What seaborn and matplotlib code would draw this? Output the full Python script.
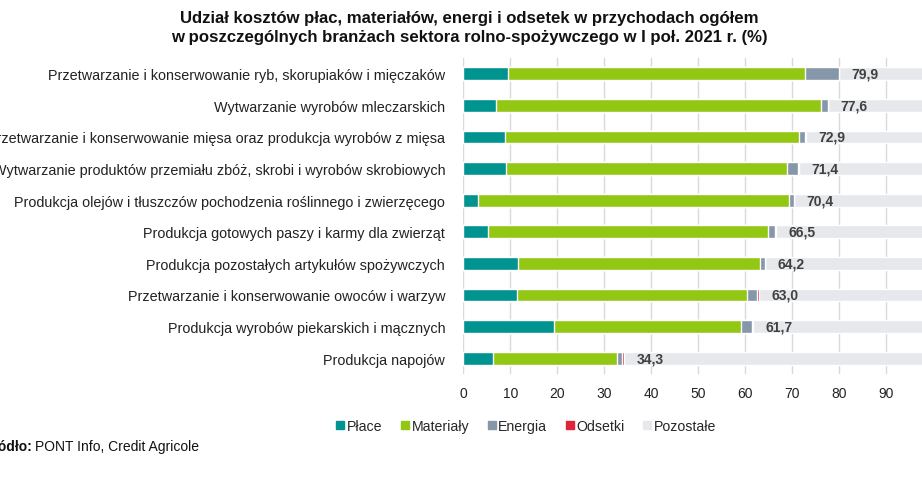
import matplotlib
matplotlib.use("Agg")
import matplotlib.pyplot as plt
import seaborn as sns
import pandas as pd
import numpy as np
from matplotlib.lines import Line2D

categories = [
    "Przetwarzanie i konserwowanie ryb, skorupiaków i mięczaków",
    "Wytwarzanie wyrobów mleczarskich",
    "Przetwarzanie i konserwowanie mięsa oraz produkcja wyrobów z mięsa",
    "Wytwarzanie produktów przemiału zbóż, skrobi i wyrobów skrobiowych",
    "Produkcja olejów i tłuszczów pochodzenia roślinnego i zwierzęcego",
    "Produkcja gotowych paszy i karmy dla zwierząt",
    "Produkcja pozostałych artykułów spożywczych",
    "Przetwarzanie i konserwowanie owoców i warzyw",
    "Produkcja wyrobów piekarskich i mącznych",
    "Produkcja napojów",
]
place = [9.6, 7.0, 8.8, 9.1, 3.1, 5.2, 11.7, 11.4, 19.3, 6.3]
materialy = [63.2, 69.1, 62.6, 59.8, 66.3, 59.7, 51.4, 49.0, 39.9, 26.4]
energia = [7.1, 1.5, 1.3, 2.4, 1.0, 1.4, 1.1, 2.2, 2.3, 1.0]
odsetki = [0.0, 0.0, 0.2, 0.1, 0.0, 0.2, 0.0, 0.4, 0.2, 0.6]
totals = [79.9, 77.6, 72.9, 71.4, 70.4, 66.5, 64.2, 63.0, 61.7, 34.3]
series_names = ["Płace", "Materiały", "Energia", "Odsetki", "Pozostałe"]
ticks = [0, 10, 20, 30, 40, 50, 60, 70, 80, 90]

colors = ["#00938f", "#92c713", "#8597a8", "#e0223a", "#e6e8ec"]

sns.set_theme(style="white")
plt.rcParams["font.family"] = ["Liberation Sans", "DejaVu Sans"]

df = pd.DataFrame({"cat": categories, "Płace": place, "Materiały": materialy,
                   "Energia": energia, "Odsetki": odsetki})
df["Pozostałe"] = 100 - df[["Płace", "Materiały", "Energia", "Odsetki"]].sum(axis=1)

fig = plt.figure(figsize=(9.22, 4.85), dpi=100)
W, H = 922, 485
x0 = 463.3
x100 = x0 + 469.7
ytop, ybot = 59, 375
ax = fig.add_axes([x0 / W, 1 - ybot / H, (x100 - x0) / W, (ybot - ytop) / H])

cum = df[series_names].cumsum(axis=1)
for i in range(len(series_names) - 1, -1, -1):
    name = series_names[i]
    sns.barplot(x=cum[name], y=df["cat"], orient="h", color=colors[i],
                width=0.4, ax=ax, saturation=1, zorder=2)

for i, t in enumerate(totals):
    ax.text(t + 2.7, i, f"{t:.1f}".replace(".", ","), va="center", ha="left",
            fontsize=10, fontweight="bold", color="#404040", zorder=3)

ax.set_xlim(0, 100)
ax.set_ylim(len(categories) - 0.5, -0.5)
ax.set_xticks(ticks)
ax.set_xticklabels([str(t) for t in ticks], fontsize=10, color="#222222")
ax.tick_params(axis="y", labelsize=10.4, colors="#222222", pad=13, length=0)
ax.tick_params(axis="x", length=0, pad=9)
ax.set_xlabel("")
ax.set_ylabel("")
ax.grid(axis="x", color="#d9d9d9", linewidth=1, zorder=0)
ax.set_axisbelow(True)
for s in ax.spines.values():
    s.set_visible(False)

handles = [Line2D([0], [0], marker="s", linestyle="", markersize=6,
                  markerfacecolor=c, markeredgecolor=c) for c in colors]
fig.legend(handles, series_names, loc="center", bbox_to_anchor=(526 / W, 1 - 427 / H),
           ncol=5, frameon=False, fontsize=10.2, handletextpad=0.15, columnspacing=1.3,
           handlelength=0.6)

fig.text(469 / W, 1 - 19 / H,
         "Udział kosztów płac, materiałów, energi i odsetek w przychodach ogółem",
         ha="center", va="center", fontsize=12.1, fontweight="bold", color="#111111")
fig.text(469 / W, 1 - 38 / H,
         "w poszczególnych branżach sektora rolno-spożywczego w I poł. 2021 r. (%)",
         ha="center", va="center", fontsize=12.1, fontweight="bold", color="#111111")

fig.text(32 / W, 1 - 447 / H, "Źródło:", ha="right", va="center", fontsize=10,
         fontweight="bold", color="#111111")
fig.text(35 / W, 1 - 447 / H, "PONT Info, Credit Agricole", ha="left", va="center",
         fontsize=10, color="#111111")

fig.savefig("out.png", dpi=100)
